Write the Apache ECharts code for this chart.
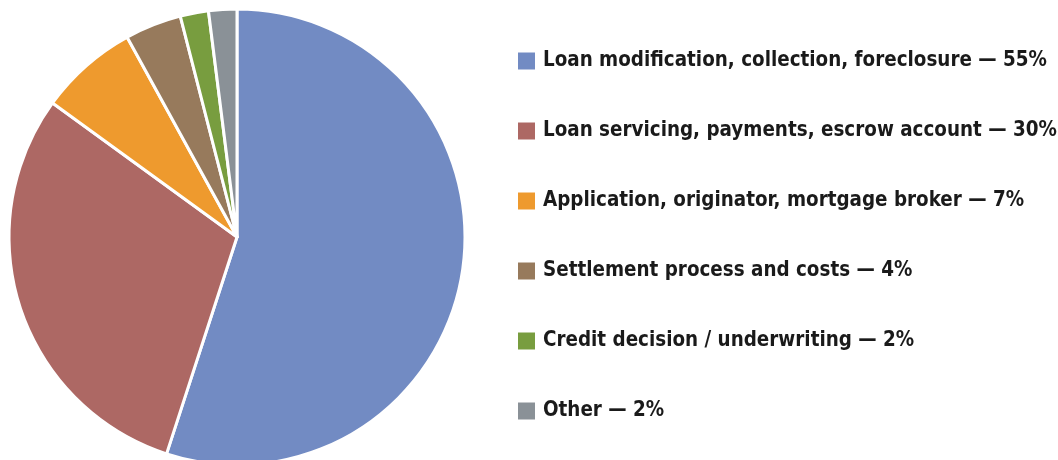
<!DOCTYPE html>
<html><head><meta charset="utf-8">
<script src="https://cdn.jsdelivr.net/npm/echarts@6/dist/echarts.min.js"></script>
<style>html,body{margin:0;padding:0;background:#fff;}#c{width:1058px;height:460px;}</style>
</head><body><div id="c"></div>
<script>
const categories = ["Loan modification, collection, foreclosure","Loan servicing, payments, escrow account","Application, originator, mortgage broker","Settlement process and costs","Credit decision / underwriting","Other"];
const values = [55,30,7,4,2,2];
const colors = ["#728BC3","#AD6864","#EE9A2E","#977A5C","#789D3F","#8A9197"];
const chart = echarts.init(document.getElementById('c'), null, {renderer:'canvas'});
chart.setOption({
  animation:false,
  color: colors,
  legend:{
    orient:'vertical', left:518, top:51, padding:0,
    itemWidth:17, itemHeight:17, itemGap:50,
    icon:'rect',
    itemStyle:{borderWidth:0},
    data: categories,
    formatter: n => n + ' — ' + values[categories.indexOf(n)] + '%',
    textStyle:{fontFamily:'DejaVu Sans Condensed', fontWeight:'bold', fontSize:20.4, color:'#1a1a1a', lineHeight:20, padding:[0,0,0,3]},
    selectedMode:false
  },
  series:[{
    type:'pie', center:[237,237], radius:[0,228], startAngle:90, clockwise:true,
    label:{show:false}, labelLine:{show:false},
    itemStyle:{borderColor:'#fff', borderWidth:3},
    data: categories.map((c,i)=>({name:c, value:values[i]}))
  }]
});
</script></body></html>
